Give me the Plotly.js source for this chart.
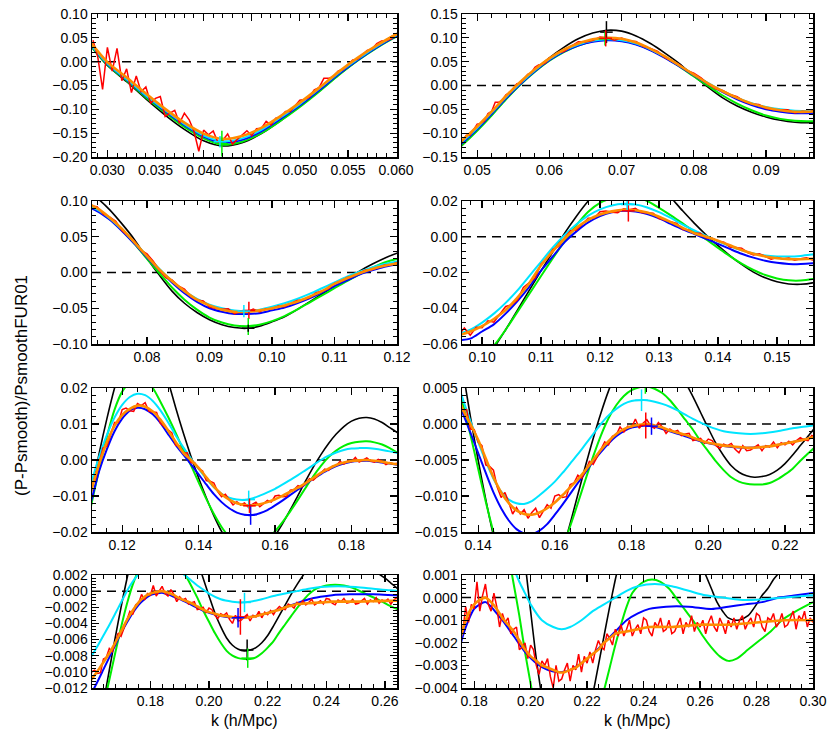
<!DOCTYPE html>
<html>
<head>
<meta charset="utf-8">
<script src="https://cdn.plot.ly/plotly-3.0.1.min.js"></script>
<style>
  html, body { margin: 0; padding: 0; background: #fff; }
  #chart { width: 830px; height: 748px; }
</style>
</head>
<body>
<div id="chart"></div>
<script>
// model curves, [k, (P-Psmooth)/Psmooth]
const blackPts = [[0.028,0.040],[0.030,-0.008],[0.032,-0.042],[0.034,-0.078],[0.036,-0.112],[0.038,-0.142],[0.040,-0.166],[0.042,-0.177],[0.044,-0.170],[0.046,-0.151],[0.048,-0.124],[0.050,-0.094],[0.052,-0.062],[0.054,-0.028],[0.056,0.003],[0.058,0.032],[0.060,0.058],[0.062,0.080],[0.064,0.098],[0.066,0.110],[0.068,0.116],[0.070,0.114],[0.072,0.104],[0.074,0.088],[0.076,0.068],[0.078,0.046],[0.080,0.020],[0.082,-0.004],[0.084,-0.026],[0.086,-0.043],[0.088,-0.056],[0.090,-0.066],[0.092,-0.073],[0.094,-0.077],[0.096,-0.078],[0.098,-0.075],[0.100,-0.069],[0.102,-0.062],[0.104,-0.052],[0.106,-0.041],[0.108,-0.030],[0.110,-0.019],[0.112,-0.0085],[0.114,0.002],[0.116,0.0115],[0.118,0.0200],[0.120,0.0270],[0.122,0.0330],[0.124,0.0365],[0.126,0.0375],[0.128,0.0355],[0.130,0.0290],[0.132,0.0220],[0.134,0.0145],[0.136,0.0075],[0.138,0.0010],[0.140,-0.0050],[0.142,-0.0105],[0.144,-0.0155],[0.146,-0.0198],[0.148,-0.0230],[0.150,-0.0252],[0.152,-0.0264],[0.154,-0.0266],[0.156,-0.0258],[0.158,-0.0238],[0.160,-0.0210],[0.162,-0.0176],[0.164,-0.0138],[0.166,-0.0098],[0.168,-0.0058],[0.170,-0.0020],[0.172,0.0015],[0.174,0.0046],[0.176,0.0072],[0.178,0.0093],[0.180,0.0108],[0.182,0.0116],[0.184,0.0118],[0.186,0.0114],[0.188,0.0104],[0.190,0.0090],[0.192,0.0076],[0.194,0.0058],[0.196,0.0038],[0.198,0.0016],[0.200,-0.0006],[0.202,-0.0027],[0.204,-0.0044],[0.206,-0.0058],[0.208,-0.0067],[0.210,-0.0072],[0.212,-0.0074],[0.214,-0.0073],[0.216,-0.0070],[0.218,-0.0064],[0.220,-0.0055],[0.222,-0.0043],[0.224,-0.0030],[0.226,-0.0017],[0.228,-0.0004],[0.230,0.0008],[0.232,0.0019],[0.234,0.0029],[0.236,0.0037],[0.240,0.0046],[0.244,0.0049],[0.248,0.0045],[0.252,0.0036],[0.256,0.0026],[0.260,0.0016],[0.262,0.0010],[0.264,0.0004],[0.266,-0.0002],[0.268,-0.0006],[0.270,-0.0009],[0.2735,-0.0010],[0.277,-0.0008],[0.280,-0.0003],[0.282,0.0001],[0.284,0.0004],[0.286,0.0008],[0.288,0.0011],[0.292,0.0017],[0.296,0.0022],[0.300,0.0025]];

const greenPts = [[0.028,0.040],[0.030,-0.007],[0.032,-0.040],[0.034,-0.075],[0.036,-0.107],[0.038,-0.137],[0.040,-0.161],[0.042,-0.174],[0.044,-0.168],[0.046,-0.150],[0.048,-0.124],[0.050,-0.095],[0.052,-0.063],[0.054,-0.029],[0.056,0.002],[0.058,0.029],[0.060,0.052],[0.062,0.070],[0.064,0.084],[0.066,0.093],[0.068,0.096],[0.070,0.094],[0.072,0.087],[0.074,0.075],[0.076,0.059],[0.078,0.040],[0.080,0.019],[0.082,-0.001],[0.084,-0.021],[0.086,-0.038],[0.088,-0.052],[0.090,-0.063],[0.092,-0.070],[0.094,-0.074],[0.096,-0.075],[0.098,-0.073],[0.100,-0.068],[0.102,-0.061],[0.104,-0.052],[0.106,-0.042],[0.108,-0.032],[0.110,-0.022],[0.112,-0.012],[0.114,-0.0025],[0.116,0.0065],[0.118,0.0140],[0.120,0.0190],[0.122,0.0215],[0.124,0.0226],[0.126,0.0224],[0.128,0.0200],[0.130,0.0162],[0.132,0.0120],[0.134,0.0075],[0.136,0.0028],[0.138,-0.0015],[0.140,-0.0062],[0.142,-0.0108],[0.144,-0.0150],[0.146,-0.0186],[0.148,-0.0214],[0.150,-0.0233],[0.152,-0.0244],[0.154,-0.0245],[0.156,-0.0236],[0.158,-0.0220],[0.160,-0.0198],[0.162,-0.0172],[0.164,-0.0142],[0.166,-0.0110],[0.168,-0.0077],[0.170,-0.0045],[0.172,-0.0016],[0.174,0.0008],[0.176,0.0026],[0.178,0.0039],[0.180,0.0047],[0.182,0.0051],[0.184,0.0052],[0.186,0.0049],[0.188,0.0043],[0.190,0.0033],[0.192,0.0020],[0.194,0.0006],[0.196,-0.0008],[0.198,-0.0024],[0.200,-0.0038],[0.202,-0.0052],[0.204,-0.0064],[0.206,-0.0074],[0.208,-0.0080],[0.210,-0.0083],[0.212,-0.0084],[0.214,-0.0084],[0.216,-0.0082],[0.218,-0.0077],[0.220,-0.0070],[0.222,-0.0062],[0.224,-0.0051],[0.226,-0.0041],[0.228,-0.0031],[0.230,-0.0021],[0.232,-0.0012],[0.234,-0.0004],[0.236,0.0002],[0.238,0.0005],[0.240,0.0007],[0.243,0.0008],[0.246,0.0007],[0.249,0.0004],[0.252,-0.0001],[0.255,-0.0006],[0.258,-0.0011],[0.261,-0.0017],[0.264,-0.0022],[0.267,-0.0026],[0.270,-0.0028],[0.273,-0.0027],[0.277,-0.0023],[0.281,-0.0019],[0.285,-0.0015],[0.289,-0.0010],[0.294,-0.0006],[0.300,-0.0002]];

const bluePts = [[0.028,0.042],[0.030,-0.005],[0.032,-0.038],[0.034,-0.072],[0.036,-0.104],[0.038,-0.133],[0.040,-0.157],[0.042,-0.170],[0.044,-0.164],[0.046,-0.146],[0.048,-0.120],[0.050,-0.092],[0.052,-0.060],[0.054,-0.027],[0.056,0.003],[0.058,0.030],[0.060,0.053],[0.062,0.071],[0.064,0.084],[0.066,0.092],[0.068,0.095],[0.070,0.093],[0.072,0.086],[0.074,0.074],[0.076,0.058],[0.078,0.040],[0.080,0.021],[0.082,0.003],[0.084,-0.014],[0.086,-0.029],[0.088,-0.041],[0.090,-0.050],[0.092,-0.055],[0.094,-0.058],[0.096,-0.058],[0.098,-0.057],[0.100,-0.053],[0.102,-0.049],[0.104,-0.043],[0.106,-0.036],[0.108,-0.028],[0.110,-0.019],[0.112,-0.011],[0.114,-0.003],[0.116,0.003],[0.118,0.008],[0.120,0.0115],[0.122,0.0137],[0.124,0.0145],[0.126,0.0141],[0.128,0.0127],[0.130,0.0103],[0.132,0.0072],[0.134,0.0042],[0.136,0.0015],[0.138,-0.0012],[0.140,-0.0040],[0.142,-0.0068],[0.144,-0.0095],[0.146,-0.0117],[0.148,-0.0134],[0.150,-0.0146],[0.152,-0.0152],[0.154,-0.0153],[0.156,-0.0148],[0.158,-0.0139],[0.160,-0.0126],[0.162,-0.0112],[0.164,-0.0097],[0.166,-0.0082],[0.168,-0.0067],[0.170,-0.0052],[0.172,-0.0039],[0.174,-0.0027],[0.176,-0.0017],[0.178,-0.0010],[0.180,-0.0005],[0.182,-0.0003],[0.184,-0.0002],[0.186,-0.0004],[0.188,-0.0007],[0.190,-0.0010],[0.194,-0.0017],[0.198,-0.0024],[0.202,-0.0029],[0.206,-0.0032],[0.210,-0.0033],[0.214,-0.0032],[0.218,-0.0029],[0.222,-0.0025],[0.226,-0.0020],[0.230,-0.0015],[0.234,-0.0010],[0.238,-0.0007],[0.242,-0.0005],[0.248,-0.0004],[0.256,-0.0004],[0.264,-0.0005],[0.270,-0.0004],[0.276,-0.0003],[0.282,-0.0002],[0.288,0.0000],[0.294,0.0001],[0.300,0.0002]];

const cyanPts = [[0.028,0.042],[0.030,-0.004],[0.032,-0.037],[0.034,-0.071],[0.036,-0.102],[0.038,-0.131],[0.040,-0.155],[0.042,-0.167],[0.044,-0.161],[0.046,-0.143],[0.048,-0.117],[0.050,-0.089],[0.052,-0.057],[0.054,-0.024],[0.056,0.005],[0.058,0.032],[0.060,0.055],[0.062,0.073],[0.064,0.086],[0.066,0.094],[0.068,0.097],[0.070,0.095],[0.072,0.088],[0.074,0.076],[0.076,0.060],[0.078,0.042],[0.080,0.023],[0.082,0.005],[0.084,-0.012],[0.086,-0.026],[0.088,-0.037],[0.090,-0.045],[0.092,-0.050],[0.094,-0.053],[0.096,-0.054],[0.098,-0.052],[0.100,-0.048],[0.102,-0.043],[0.104,-0.037],[0.106,-0.030],[0.108,-0.022],[0.110,-0.014],[0.112,-0.006],[0.114,0.001],[0.116,0.007],[0.118,0.0118],[0.120,0.0153],[0.122,0.0175],[0.124,0.0184],[0.126,0.0180],[0.128,0.0164],[0.130,0.0138],[0.132,0.0105],[0.134,0.0068],[0.136,0.0035],[0.138,0.0004],[0.140,-0.0025],[0.142,-0.0052],[0.144,-0.0076],[0.146,-0.0094],[0.148,-0.0105],[0.150,-0.0110],[0.152,-0.0111],[0.154,-0.0107],[0.156,-0.0099],[0.158,-0.0090],[0.160,-0.0080],[0.162,-0.0068],[0.164,-0.0055],[0.166,-0.0042],[0.168,-0.0028],[0.170,-0.0014],[0.172,0.0000],[0.174,0.0012],[0.176,0.0021],[0.178,0.0028],[0.180,0.0032],[0.182,0.0033],[0.184,0.0033],[0.186,0.0031],[0.188,0.0028],[0.190,0.0024],[0.192,0.0019],[0.194,0.0013],[0.196,0.0007],[0.198,0.0002],[0.200,-0.0003],[0.204,-0.0010],[0.208,-0.0013],[0.211,-0.0014],[0.214,-0.0013],[0.218,-0.0010],[0.222,-0.0006],[0.226,-0.0003],[0.230,0.0000],[0.234,0.0003],[0.238,0.0005],[0.244,0.0006],[0.250,0.0005],[0.256,0.0003],[0.262,0.0001],[0.268,0.0000],[0.274,-0.0001],[0.280,-0.0001],[0.290,0.0000],[0.300,0.0001]];

const orangePts = [[0.028,0.047],[0.030,-0.001],[0.032,-0.033],[0.034,-0.067],[0.036,-0.099],[0.038,-0.128],[0.040,-0.151],[0.042,-0.162],[0.044,-0.156],[0.046,-0.139],[0.048,-0.114],[0.050,-0.086],[0.052,-0.055],[0.054,-0.022],[0.056,0.008],[0.058,0.034],[0.060,0.057],[0.062,0.075],[0.064,0.088],[0.066,0.097],[0.068,0.100],[0.070,0.098],[0.072,0.090],[0.074,0.077],[0.076,0.061],[0.078,0.042],[0.080,0.023],[0.082,0.004],[0.084,-0.012],[0.086,-0.026],[0.088,-0.038],[0.090,-0.046],[0.092,-0.052],[0.094,-0.055],[0.096,-0.055],[0.098,-0.053],[0.100,-0.050],[0.102,-0.046],[0.104,-0.041],[0.106,-0.034],[0.108,-0.026],[0.110,-0.016],[0.112,-0.008],[0.114,-0.001],[0.116,0.005],[0.118,0.0095],[0.120,0.0125],[0.122,0.0142],[0.124,0.0151],[0.126,0.0148],[0.128,0.0135],[0.130,0.0112],[0.132,0.0082],[0.134,0.0050],[0.136,0.0020],[0.138,0.0000],[0.140,-0.0022],[0.142,-0.0048],[0.144,-0.0074],[0.146,-0.0095],[0.148,-0.0110],[0.150,-0.0120],[0.152,-0.0125],[0.154,-0.0126],[0.156,-0.0123],[0.158,-0.0117],[0.160,-0.0109],[0.162,-0.0099],[0.164,-0.0088],[0.166,-0.0077],[0.168,-0.0064],[0.170,-0.0050],[0.172,-0.0036],[0.174,-0.0024],[0.176,-0.0014],[0.178,-0.0007],[0.180,-0.0003],[0.182,-0.0001],[0.184,0.0000],[0.186,-0.0002],[0.188,-0.0005],[0.190,-0.0009],[0.192,-0.0012],[0.194,-0.0015],[0.196,-0.0019],[0.198,-0.0023],[0.200,-0.0026],[0.202,-0.0028],[0.204,-0.0030],[0.206,-0.0031],[0.208,-0.0032],[0.210,-0.0033],[0.212,-0.0033],[0.214,-0.0032],[0.216,-0.0031],[0.218,-0.0029],[0.220,-0.0027],[0.222,-0.0025],[0.224,-0.0023],[0.226,-0.0020],[0.228,-0.0018],[0.230,-0.0016],[0.234,-0.0015],[0.238,-0.0014],[0.242,-0.0013],[0.250,-0.0013],[0.260,-0.0012],[0.270,-0.0012],[0.280,-0.0011],[0.290,-0.0010],[0.300,-0.0010]];

// measured (noisy) ratio, sampled on a regular k grid
const redLowStart = 0.0285, redLowStep = 0.0005;
const redLow = [
  0.045, 0.010, -0.058, 0.030, -0.020, 0.028, -0.040, -0.015, -0.065, -0.030,
  -0.063, -0.053, -0.087, -0.077, -0.073, -0.115, -0.108, -0.102, -0.129, -0.108,
  -0.122, -0.146, -0.188, -0.1435, -0.1535, -0.1455, -0.170, -0.165, -0.1515, -0.173,
  -0.163, -0.1544, -0.1448, -0.1552, -0.1408, -0.1398, -0.125, -0.1326, -0.1186, -0.1164,
  -0.1045, -0.1045, -0.092, -0.081, -0.0795, -0.0745, -0.059, -0.0545, -0.035, -0.035,
  -0.0308, -0.0192, -0.0164, -0.0058, 0.0036, 0.0048, 0.0146, 0.0234, 0.0264, 0.038,
  0.0432, 0.0444, 0.048, 0.059
];
const redHighStart = 0.061, redHighStep = 0.001;
const redHigh = [
  0.068, 0.0714, 0.0823, 0.092, 0.0913, 0.0942, 0.1017, 0.1004, 0.095, 0.0996,
  0.0934, 0.0921, 0.0817, 0.0779, 0.0717, 0.0586, 0.0512, 0.0438, 0.0313, 0.026,
  0.0159, 0.0028, -0.007, -0.0105, -0.0187, -0.0233, -0.0338, -0.0386, -0.0399, -0.0484,
  -0.0505, -0.0514, -0.0508, -0.0577, -0.0538, -0.0553, -0.051, -0.0551, -0.0506, -0.0509,
  -0.047, -0.0478, -0.0431, -0.039, -0.0381, -0.0354, -0.0284, -0.0258, -0.023, -0.0152,
  -0.0123, -0.0070, -0.0054, -0.0006, 0.0034, 0.0038, 0.0072, 0.0104, 0.0104, 0.0140,
  0.0144, 0.0137, 0.0135, 0.0157, 0.0151, 0.0159, 0.0135, 0.0133, 0.0132, 0.0102,
  0.0092, 0.0084, 0.0075, 0.0041, 0.0039, 0.0019, 0.0020, -0.0007, -0.0008, -0.0025,
  -0.0030, -0.0057, -0.0059, -0.0064, -0.0088, -0.0102, -0.0095, -0.0109, -0.0125, -0.0116,
  -0.0125, -0.0119, -0.0131, -0.0123, -0.0117, -0.0130, -0.0121, -0.0112, -0.0117, -0.0100,
  -0.0098, -0.0102, -0.0101, -0.0084, -0.0082, -0.0071, -0.0075, -0.0065, -0.0052, -0.0056,
  -0.0046, -0.0035, -0.0025, -0.0029, -0.0017, -0.0015, -0.0004, -0.0011, -0.0003, -0.0005,
  0.0007, -0.0006, 0.0001, 0.0006, -0.0003, -0.0006, 0.0002, -0.0004, -0.0013, -0.0007,
  -0.0011, -0.0009, -0.0016, -0.0014, -0.0013, -0.0023, -0.0022, -0.0020, -0.0027, -0.0021,
  -0.0023, -0.0030, -0.0034, -0.0028, -0.0030, -0.0027, -0.0035, -0.0040, -0.0030, -0.0037,
  -0.0036, -0.0032, -0.0029, -0.0037, -0.0030, -0.0032, -0.0025, -0.0033, -0.0026, -0.0029,
  -0.0024, -0.0029, -0.0023, -0.0019, -0.0022, -0.0023, -0.0016, -0.0018, -0.0021, -0.0014,
  -0.0017, -0.0012, -0.0017, -0.0014, -0.0010, -0.0017, -0.0014, -0.0012, -0.0016, -0.0009,
  -0.0010, -0.0015, -0.0017, -0.0011, -0.0013, -0.0009, -0.0015, -0.0014, -0.0010, -0.0016,
  -0.0015, -0.0012, -0.0009, -0.0016, -0.0011, -0.0013, -0.0008, -0.0015, -0.0011, -0.0013,
  -0.0010, -0.0016, -0.0011, -0.0008, -0.0013, -0.0015, -0.0009, -0.0012, -0.0016, -0.0010,
  -0.0013, -0.0009, -0.0014, -0.0010, -0.0008, -0.0014, -0.0011, -0.0009, -0.0013, -0.0007,
  -0.0008, -0.0013, -0.0015, -0.0009, -0.0010, -0.0007, -0.0013, -0.0011, -0.0007, -0.0013,
  -0.0012, -0.0009, -0.0006, -0.0014, -0.0008, -0.0010, -0.0006, -0.0013, -0.0009, -0.0011
];

// error crosses: panel, k, value, half-height, series
const errPanel = [1, 1, 2, 2, 2, 3, 3, 3, 3, 4, 4, 5, 5, 5, 6, 6, 6, 6, 7, 7, 7, 7, 7];
const errK = [0.0419, 0.0417, 0.0679, 0.0677, 0.0678, 0.0963, 0.0955, 0.0962, 0.0962, 0.1248, 0.1246, 0.1531, 0.1536, 0.1533, 0.1826, 0.1836, 0.1837, 0.1852, 0.2121, 0.2107, 0.2099, 0.2130, 0.2132];
const errV = [-0.172, -0.168, 0.112, 0.098, 0.099, -0.053, -0.054, -0.0755, -0.078, 0.0145, 0.018, -0.011, -0.0152, -0.0127, 0.0033, 0.0051, -0.0002, -0.0003, -0.0014, -0.0032, -0.0033, -0.0073, -0.0083];
const errH = [0.027, 0.012, 0.023, 0.014, 0.017, 0.012, 0.0085, 0.012, 0.005, 0.006, 0.003, 0.0025, 0.0028, 0.002, 0.0015, 0.0009, 0.0018, 0.0012, 0.0012, 0.0022, 0.0012, 0.0013, 0.0012];
const errSeries = ['green', 'cyan', 'black', 'green', 'red', 'red', 'cyan', 'green', 'black', 'red', 'cyan', 'cyan', 'blue', 'red', 'cyan', 'green', 'red', 'blue', 'cyan', 'red', 'blue', 'black', 'green'];

// panel axes
const panelXRange = [[0.0284, 0.0601], [0.0479, 0.0965], [0.0712, 0.1200], [0.0966, 0.1561], [0.1121, 0.1919], [0.1358, 0.2273], [0.1601, 0.2641], [0.1757, 0.3000]];
const panelYRange = [[-0.2, 0.1], [-0.15, 0.15], [-0.1, 0.1], [-0.06, 0.02], [-0.02, 0.02], [-0.015, 0.005], [-0.012, 0.002], [-0.004, 0.001]];
const panelXStep = [0.005, 0.01, 0.01, 0.01, 0.02, 0.02, 0.02, 0.02];
const panelYStep = [0.05, 0.05, 0.05, 0.02, 0.01, 0.005, 0.002, 0.001];
const panelXFmt = ['.3f', '.2f', '.2f', '.2f', '.2f', '.2f', '.2f', '.2f'];
const panelYFmt = ['.2f', '.2f', '.2f', '.2f', '.2f', '.3f', '.3f', '.3f'];

const W = 830, H = 748;
const colPx = [[92, 397], [462, 813]];
const rowPx = [[14, 157], [201, 344], [388, 532], [575, 688]];

const colors = { black: '#000000', green: '#00ee00', blue: '#0000ff', cyan: '#00e5ff', red: '#ff0000', orange: '#ff8c00' };
const font = 'Liberation Sans, Arial, sans-serif';

const smoothSeries = [
  { pts: blackPts, color: colors.black, width: 1.6 },
  { pts: greenPts, color: colors.green, width: 2 },
  { pts: bluePts, color: colors.blue, width: 2 },
  { pts: cyanPts, color: colors.cyan, width: 2 }
];

const traces = [];
const layout = {
  width: W, height: H,
  margin: { l: 0, r: 0, t: 0, b: 0 },
  paper_bgcolor: '#fff', plot_bgcolor: '#fff',
  showlegend: false,
  font: { family: font, size: 14, color: '#000' },
  shapes: [],
  annotations: []
};

for (let p = 0; p < 8; p++) {
  const n = p === 0 ? '' : String(p + 1);
  const xa = 'x' + n, ya = 'y' + n;
  const col = colPx[p % 2], row = rowPx[Math.floor(p / 2)];

  smoothSeries.forEach(s => {
    traces.push({
      x: s.pts.map(d => d[0]), y: s.pts.map(d => d[1]),
      xaxis: xa, yaxis: ya, mode: 'lines', hoverinfo: 'skip',
      line: { color: s.color, width: s.width, shape: 'spline', smoothing: 0.8 }
    });
  });
  traces.push({
    y: redLow, x0: redLowStart, dx: redLowStep,
    xaxis: xa, yaxis: ya, mode: 'lines', hoverinfo: 'skip',
    line: { color: colors.red, width: 1.5 }
  });
  traces.push({
    y: redHigh, x0: redHighStart, dx: redHighStep,
    xaxis: xa, yaxis: ya, mode: 'lines', hoverinfo: 'skip',
    line: { color: colors.red, width: 1.5 }
  });
  traces.push({
    x: orangePts.map(d => d[0]), y: orangePts.map(d => d[1]),
    xaxis: xa, yaxis: ya, mode: 'lines', hoverinfo: 'skip',
    line: { color: colors.orange, width: 2.6, shape: 'spline', smoothing: 0.8 }
  });

  errPanel.forEach((pp, i) => {
    if (pp !== p + 1) return;
    const c = colors[errSeries[i]];
    traces.push({
      x: [errK[i]], y: [errV[i]], xaxis: xa, yaxis: ya,
      mode: 'markers', hoverinfo: 'skip',
      marker: { symbol: 'line-ew', size: 9, color: c, line: { color: c, width: 1.5 } },
      error_y: { type: 'data', array: [errH[i]], visible: true, color: c, thickness: 1.5, width: 0 }
    });
  });

  const common = {
    showline: true, linecolor: '#000', linewidth: 1.5, mirror: 'ticks',
    ticks: 'inside', ticklen: 7, tickwidth: 1.2, tickcolor: '#000',
    showgrid: false, zeroline: false, tick0: 0,
    tickfont: { family: font, size: 14, color: '#000' }
  };
  layout['xaxis' + n] = Object.assign({}, common, {
    domain: [col[0] / W, col[1] / W], anchor: ya,
    range: panelXRange[p], dtick: panelXStep[p], tickformat: panelXFmt[p],
    minor: { ticks: 'inside', ticklen: 4, dtick: panelXStep[p] / 5, tickcolor: '#000', tickwidth: 1 }
  });
  layout['yaxis' + n] = Object.assign({}, common, {
    domain: [1 - row[1] / H, 1 - row[0] / H], anchor: xa,
    range: panelYRange[p], dtick: panelYStep[p], tickformat: panelYFmt[p],
    minor: { ticks: 'inside', ticklen: 4, dtick: panelYStep[p] / 5, tickcolor: '#000', tickwidth: 1 }
  });

  layout.shapes.push({
    type: 'line', layer: 'below',
    xref: xa + ' domain', x0: 0, x1: 1, yref: ya, y0: 0, y1: 0,
    line: { color: '#000', width: 1.5, dash: '9px,6px' }
  });
}

layout.annotations.push({
  text: '(P-Psmooth)/PsmoothFUR01', textangle: -90, showarrow: false,
  xref: 'paper', yref: 'paper', x: 22 / W, y: 1 - 386 / H,
  xanchor: 'center', yanchor: 'middle',
  font: { family: font, size: 17, color: '#000' }
});
[[92, 397], [462, 813]].forEach(c => {
  layout.annotations.push({
    text: 'k (h/Mpc)', showarrow: false,
    xref: 'paper', yref: 'paper', x: (c[0] + c[1]) / 2 / W, y: 1 - 720 / H,
    xanchor: 'center', yanchor: 'middle',
    font: { family: font, size: 16, color: '#000' }
  });
});

Plotly.newPlot('chart', traces, layout, { staticPlot: true });
</script>
</body>
</html>
